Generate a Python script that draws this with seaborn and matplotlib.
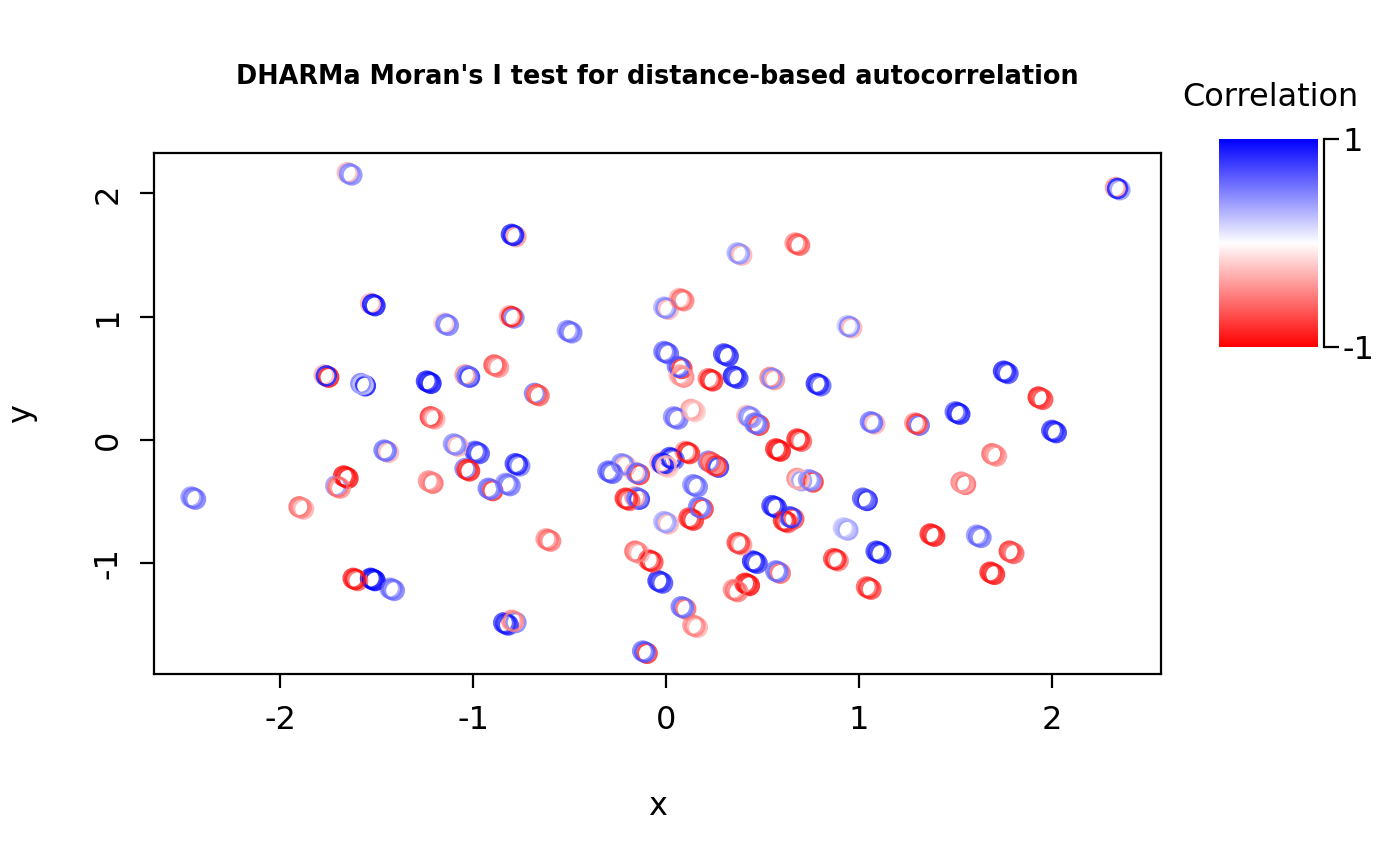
import numpy as np
import pandas as pd
import seaborn as sns
import matplotlib.pyplot as plt
from matplotlib.colors import LinearSegmentedColormap

# cluster centres (x, y)
cx = [-1.64, -0.79, 0.38, 0.68, 2.34, -1.52, -1.14, -0.80, -0.50, 0.00,
      0.08, 0.95, -1.76, -1.57, -1.23, -1.03, -0.88, -0.67, 0.00, 0.07,
      0.08, 0.31, 0.36, 0.23, 0.55, 0.79, 1.76, 1.94, 2.01, 1.51,
      1.07, 1.30, 0.43, 0.47, 0.69, 0.58, 0.05, 0.14, -1.21, -1.09,
      -0.98, -1.45, -1.66, -1.70, -1.22, -1.03, -0.91, -0.82, -0.77, -0.29,
      -0.22, -0.15, -0.02, 0.03, 0.11, 0.23, 0.26, 0.00, -0.15, -0.20,
      0.15, 0.13, 0.18, 0.56, 0.62, 0.65, 0.69, 0.75, 0.93, 1.03,
      1.10, 1.38, 1.54, 1.70, 1.62, 1.69, 1.79, 1.05, 0.88, 0.46,
      0.58, 0.38, 0.42, 0.36, 0.09, 0.15, 0.00, -0.03, -0.08, -0.15,
      -0.11, -0.83, -0.79, -1.52, -1.61, -1.42, -1.89, -2.45, -0.61]
cy = [2.16, 1.66, 1.51, 1.59, 2.04, 1.10, 0.94, 1.00, 0.88, 1.07,
      1.14, 0.92, 0.52, 0.45, 0.47, 0.52, 0.60, 0.37, 0.71, 0.59,
      0.52, 0.69, 0.51, 0.49, 0.50, 0.45, 0.55, 0.34, 0.07, 0.22,
      0.14, 0.13, 0.19, 0.13, 0.00, -0.08, 0.18, 0.24, 0.18, -0.04,
      -0.10, -0.09, -0.30, -0.38, -0.34, -0.24, -0.40, -0.36, -0.20, -0.26,
      -0.20, -0.27, -0.19, -0.15, -0.10, -0.18, -0.21, -0.21, -0.47, -0.48,
      -0.37, -0.64, -0.55, -0.54, -0.66, -0.63, -0.32, -0.33, -0.72, -0.48,
      -0.91, -0.77, -0.35, -0.12, -0.78, -1.08, -0.91, -1.20, -0.97, -0.99,
      -1.07, -0.84, -1.17, -1.22, -1.36, -1.51, -0.67, -1.15, -0.98, -0.91,
      -1.72, -1.49, -1.47, -1.13, -1.13, -1.21, -0.55, -0.47, -0.81]

# correlation values of the overlapping circles in each cluster
corr_a = [0.50, 0.95, 0.45, -0.70, 0.90, 0.95, 0.55, -0.90, 0.60, 0.50,
          -0.60, 0.50, 0.90, 0.30, 0.95, 0.60, -0.60, -0.70, 0.70, 0.70,
          -0.40, 0.85, 0.85, -0.90, 0.50, 0.90, 0.90, -0.80, 0.90, 0.90,
          0.60, -0.80, 0.50, 0.60, -0.90, -0.95, 0.60, -0.30, -0.60, 0.50,
          0.80, 0.60, -0.95, -0.60, -0.50, -0.90, 0.60, 0.60, 0.90, 0.70,
          0.50, 0.60, 0.90, 0.90, -0.90, -0.70, -0.85, -0.30, 0.60, -0.90,
          0.60, -0.90, 0.60, 0.90, -0.90, 0.80, -0.30, 0.50, 0.30, 0.70,
          0.90, -0.90, -0.40, -0.50, 0.60, -0.90, -0.70, -0.85, -0.90, 0.90,
          0.60, -0.80, -0.95, -0.60, 0.60, -0.50, 0.40, 0.85, -0.90, -0.50,
          0.70, 0.90, -0.50, 1.00, -0.95, 0.60, -0.50, 0.60, -0.60]
corr_b = [0.45, -0.40, -0.30, -0.60, 0.40, 0.90, 0.50, 0.50, 0.50, -0.30,
          -0.50, -0.30, -0.90, 0.90, 0.90, 0.80, -0.40, -0.60, 0.60, -0.80,
          -0.50, 0.80, 0.70, -0.80, -0.40, 0.60, 0.70, -0.70, 0.80, 0.85,
          -0.30, 0.60, 0.40, -0.80, -0.60, -0.90, 0.50, -0.20, -0.30, -0.30,
          0.70, -0.30, -0.90, -0.40, -0.60, -0.85, -0.80, 0.50, 0.50, 0.60,
          -0.30, -0.80, 0.80, 0.60, -0.80, -0.50, 0.80, -0.20, 0.80, -0.60,
          0.50, -0.80, -0.80, 0.80, -0.60, -0.70, 0.40, -0.80, 0.40, 0.90,
          0.80, -0.85, -0.60, -0.40, 0.50, -0.85, -0.60, -0.70, -0.50, 0.70,
          -0.60, -0.40, -0.90, -0.50, -0.60, -0.30, -0.30, 0.70, -0.70, -0.30,
          -0.80, 0.80, 0.50, 0.95, -0.60, 0.50, -0.30, 0.50, -0.50]
corr_c = [-0.30, 0.80, 0.30, -0.40, -0.40, -0.30, -0.20, -0.30, 0.40, 0.30,
          -0.30, 0.20, -0.30, 0.50, 0.80, -0.40, -0.70, 0.50, 0.50, 0.50,
          -0.30, 0.70, 0.90, -0.50, -0.50, 0.80, 0.80, -0.90, 0.70, 0.60,
          0.50, -0.40, -0.30, 0.50, -0.80, -0.80, 0.40, -0.40, -0.80, 0.40,
          0.60, 0.50, -0.85, 0.40, -0.40, 0.50, 0.50, 0.40, 0.70, 0.50,
          0.40, -0.30, -0.30, 0.70, -0.40, 0.50, -0.50, 0.30, -0.40, -0.80,
          0.40, -0.70, 0.50, 0.70, -0.80, 0.60, -0.50, 0.40, 0.20, 0.60,
          0.70, -0.80, -0.50, -0.60, 0.40, -0.80, -0.80, -0.60, -0.70, 0.80,
          0.50, -0.70, -0.80, -0.40, 0.50, -0.40, 0.30, 0.80, -0.60, -0.60,
          0.50, 0.70, -0.40, 0.90, -0.80, 0.40, -0.60, 0.40, -0.40]

# small shifts of the overlapping circles around each centre
shift_x = [-0.011, 0.012, 0.0]
shift_y = [0.008, -0.010, 0.0]

rows = []
for k, vals in enumerate([corr_c, corr_b, corr_a]):
    for i in range(len(cx)):
        rows.append({"x": cx[i] + shift_x[k], "y": cy[i] + shift_y[k], "corr": vals[i]})
df = pd.DataFrame(rows)

cmap = LinearSegmentedColormap.from_list("rwb", ["red", "white", "blue"])

sns.set_style("white")
plt.rcParams["font.family"] = ["DejaVu Sans"]
plt.rcParams["text.color"] = "black"
plt.rcParams["axes.labelcolor"] = "black"
plt.rcParams["xtick.color"] = "black"
plt.rcParams["ytick.color"] = "black"

fig = plt.figure(figsize=(7, 4.33), dpi=200)
ax = fig.add_axes([0.11, 0.2217, 0.7193, 0.6016])

sns.scatterplot(data=df, x="x", y="y", hue="corr", palette=cmap, hue_norm=(-1, 1),
                s=46, linewidth=0.95, alpha=0.85, legend=False, ax=ax)
pts = ax.collections[0]
fc = pts.get_facecolors()
pts.set_edgecolors(fc)
pts.set_facecolors("none")

ax.set_xlim(-2.653, 2.565)
ax.set_ylim(-1.898, 2.328)
ax.set_xticks([-2, -1, 0, 1, 2])
ax.set_yticks([-1, 0, 1, 2])
ax.set_xticklabels(["-2", "-1", "0", "1", "2"])
ax.set_yticklabels(["-1", "0", "1", "2"], rotation=90, va="center")
ax.tick_params(axis="both", direction="out", length=5, width=0.8, labelsize=11.5,
               bottom=True, left=True, pad=6)
for sp in ax.spines.values():
    sp.set_color("black")
    sp.set_linewidth(0.8)
ax.set_xlabel("x", fontsize=11.5, labelpad=20)
ax.set_ylabel("y", fontsize=11.5, labelpad=20)

fig.text(657 / 1400, 1 - 77 / 866, "DHARMa Moran's I test for distance-based autocorrelation",
         ha="center", va="center", fontsize=9.2, fontweight="bold")

# colour key
cax = fig.add_axes([1219 / 1400, 1 - 347 / 866, 99 / 1400, 208 / 866])
grad = np.linspace(-1, 1, 256).reshape(-1, 1)
cax.imshow(grad, cmap=cmap, aspect="auto", origin="lower", extent=[0, 1, -1, 1])
cax.set_xlim(0, 1)
cax.set_ylim(-1, 1)
cax.set_xticks([])
for s in ["top", "bottom", "left"]:
    cax.spines[s].set_visible(False)
cax.spines["right"].set_position(("outward", 2.2))
cax.spines["right"].set_linewidth(0.8)
cax.spines["right"].set_color("black")
cax.yaxis.tick_right()
cax.set_yticks([-1, 1])
cax.set_yticklabels(["-1", "1"])
cax.tick_params(axis="y", direction="out", length=5.5, width=0.8, labelsize=11.5, pad=1)
fig.text(1270 / 1400, 1 - 97 / 866, "Correlation", ha="center", va="center", fontsize=11.5)

fig.savefig("out.png", dpi=200, facecolor="white")
